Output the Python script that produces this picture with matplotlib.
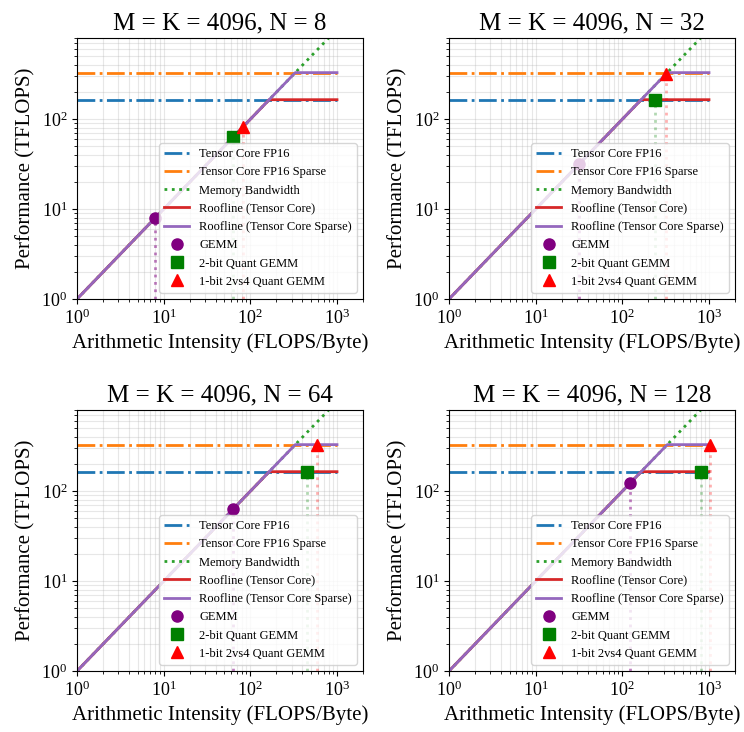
import matplotlib
matplotlib.use("Agg")
import matplotlib.pyplot as plt

plt.rcParams["font.family"] = ["Liberation Serif", "DejaVu Serif"]
plt.rcParams["mathtext.fontset"] = "stix"

# ---------------------------
# DATA
# ---------------------------
n_values = [8, 32, 64, 128]

# hardware lines (x, y break points)
peak_x = [1, 1000]
peak_fp16 = [165, 165]
peak_sparse = [330, 330]
mem_x = [1, 1000]
mem_y = [1, 1000]
roof_x = [1, 165, 1000]
roof_y = [1, 165, 165]
roof_sparse_x = [1, 330, 1000]
roof_sparse_y = [1, 330, 330]

# kernels: arithmetic intensity and performance for each N
gemm_ai = [7.97, 31.8, 63.0, 124]
gemm_perf = [7.97, 31.8, 63.0, 124]
q2_ai = [63.0, 241, 455, 819]
q2_perf = [63.0, 165, 165, 165]
q1_ai = [82.2, 315, 585, 1024]
q1_perf = [82.2, 315, 330, 330]

fig = plt.figure(figsize=(7.44, 7.32), dpi=100)

lefts = [0.1035, 0.6035, 0.1035, 0.6035]
bottoms = [0.5915, 0.5915, 0.0833, 0.0833]
w, h = 0.3845, 0.3565

for i, n in enumerate(n_values):
    ax = fig.add_axes([lefts[i], bottoms[i], w, h])

    ax.plot(peak_x, peak_fp16, "-.", color="tab:blue", lw=2, label="Tensor Core FP16")
    ax.plot(peak_x, peak_sparse, "-.", color="tab:orange", lw=2, label="Tensor Core FP16 Sparse")
    ax.plot(mem_x, mem_y, ":", color="tab:green", lw=2, label="Memory Bandwidth")
    ax.plot(roof_x, roof_y, "-", color="tab:red", lw=2, label="Roofline (Tensor Core)")
    ax.plot(roof_sparse_x, roof_sparse_y, "-", color="tab:purple", lw=2,
            label="Roofline (Tensor Core Sparse)")

    # vertical drop lines
    ax.plot([gemm_ai[i], gemm_ai[i]], [1, gemm_perf[i]], ":", color="purple", lw=2, alpha=0.5)
    ax.plot([q2_ai[i], q2_ai[i]], [1, q2_perf[i]], ":", color="green", lw=2, alpha=0.3)
    ax.plot([q1_ai[i], q1_ai[i]], [1, q1_perf[i]], ":", color="red", lw=2, alpha=0.3)

    ax.plot(gemm_ai[i], gemm_perf[i], "o", color="purple", ms=8, ls="none", label="GEMM")
    ax.plot(q2_ai[i], q2_perf[i], "s", color="green", ms=8, ls="none", label="2-bit Quant GEMM")
    ax.plot(q1_ai[i], q1_perf[i], "^", color="red", ms=8, ls="none", label="1-bit 2vs4 Quant GEMM")

    ax.set_xscale("log")
    ax.set_yscale("log")
    ax.set_xlim(1, 2000)
    ax.set_ylim(1, 800)
    ax.grid(True, which="both", ls="-", alpha=0.3)
    ax.tick_params(labelsize=13)

    ax.set_title(f"M = K = 4096, N = {n}", fontsize=18)
    ax.set_xlabel("Arithmetic Intensity (FLOPS/Byte)", fontsize=15)
    ax.set_ylabel("Performance (TFLOPS)", fontsize=15)
    ax.legend(loc="lower right", fontsize=9, labelspacing=0.5)

plt.savefig("out.png", dpi=100)
